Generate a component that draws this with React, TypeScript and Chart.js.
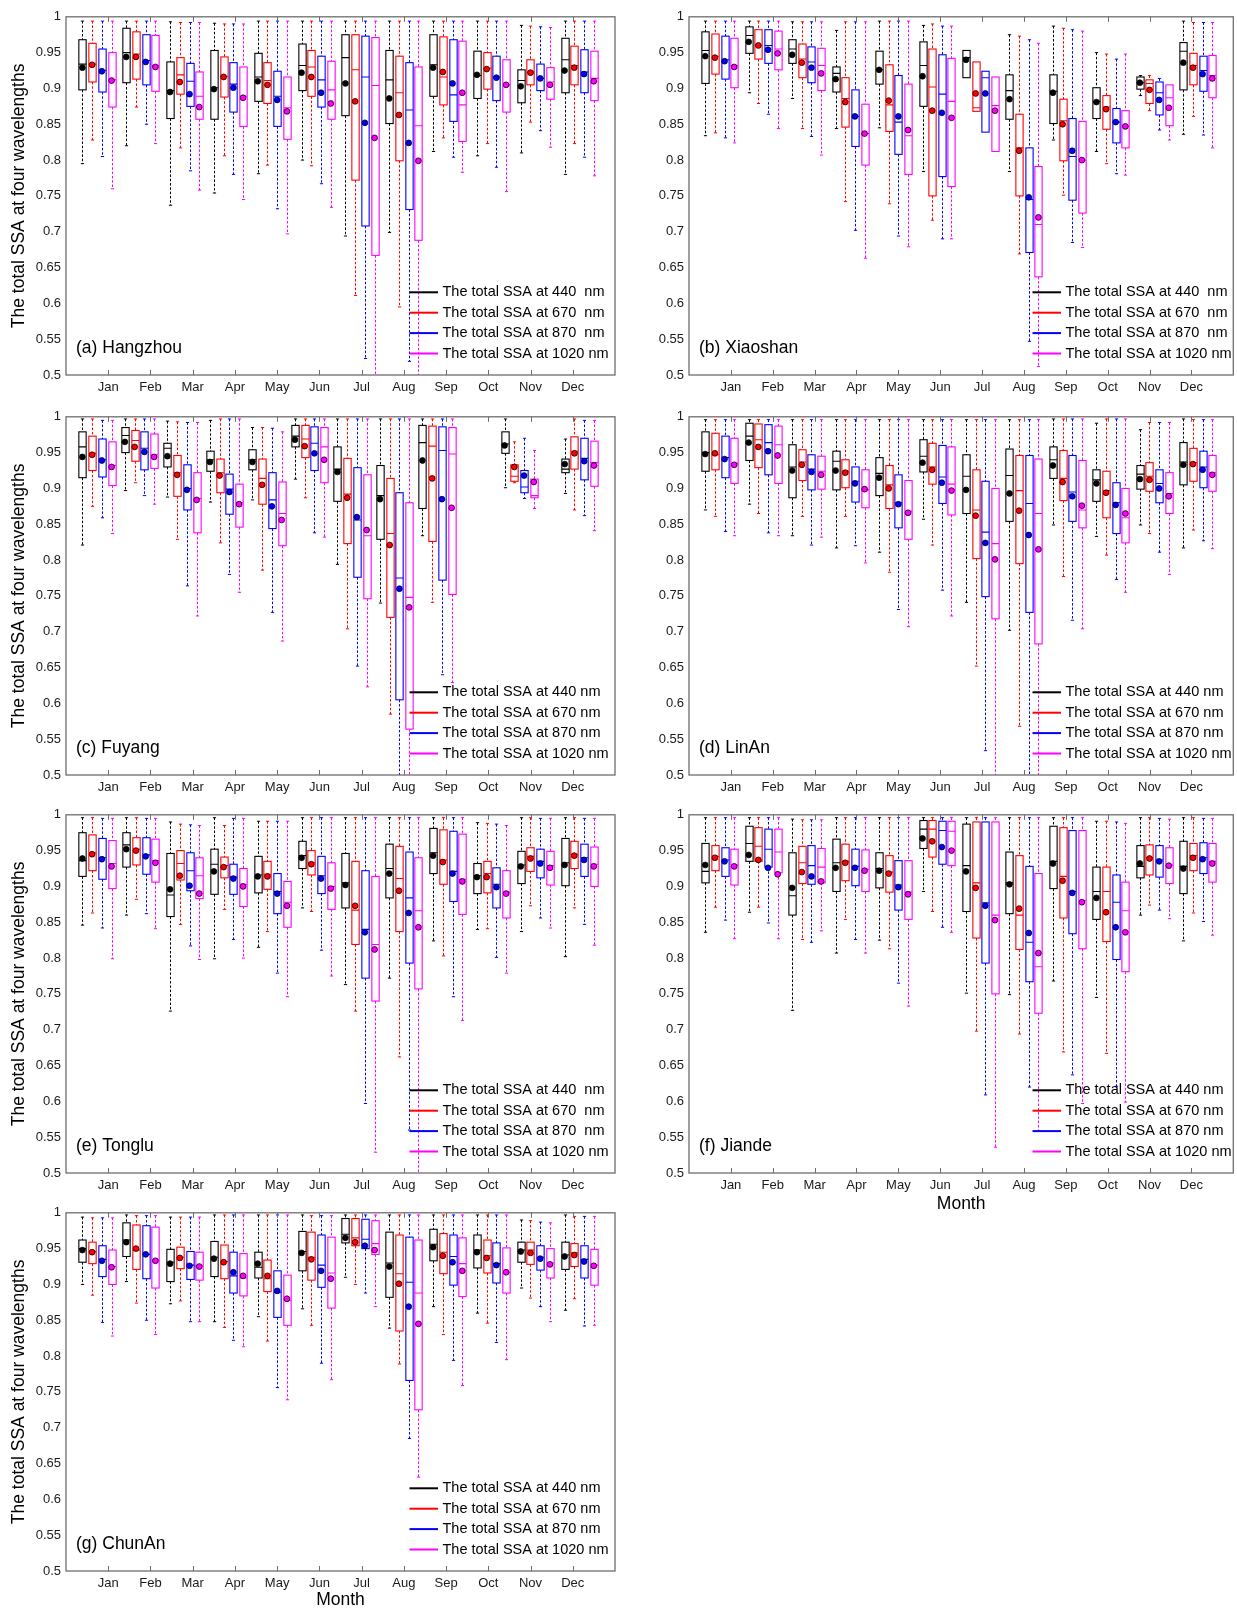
import React, { useEffect, useRef } from 'react';
import { Chart, registerables } from 'chart.js';

Chart.register(...registerables);

// ---------------- data ----------------
const MONTHS = ['Jan', 'Feb', 'Mar', 'Apr', 'May', 'Jun', 'Jul', 'Aug', 'Sep', 'Oct', 'Nov', 'Dec'];
const Y_TICKS = [0.5, 0.55, 0.6, 0.65, 0.7, 0.75, 0.8, 0.85, 0.9, 0.95, 1];
const WAVELENGTHS = ['440', '670', '870', '1020'];
const LEGEND_WIDE = ['The total SSA at 440  nm', 'The total SSA at 670  nm', 'The total SSA at 870  nm', 'The total SSA at 1020 nm'];
const LEGEND_NARROW = ['The total SSA at 440 nm', 'The total SSA at 670 nm', 'The total SSA at 870 nm', 'The total SSA at 1020 nm'];

// each entry: [lower whisker, Q1, median, Q3, upper whisker, mean]
type Stat = number[] | null;

const HZ_440: Stat[] = [
  [0.795, 0.898, 0.934, 0.968, 0.994, 0.929], [0.82, 0.908, 0.95, 0.984, 0.994, 0.944], [0.737, 0.858, 0.897, 0.937, 0.993, 0.895],
  [0.754, 0.857, 0.901, 0.953, 0.991, 0.899], [0.781, 0.882, 0.916, 0.949, 0.994, 0.91], [0.8, 0.897, 0.932, 0.962, 0.994, 0.922],
  [0.694, 0.862, 0.943, 0.975, 0.994, 0.907], [0.699, 0.851, 0.912, 0.953, 0.994, 0.886], [0.812, 0.889, 0.933, 0.975, 0.994, 0.929],
  [0.806, 0.886, 0.918, 0.952, 0.994, 0.919], [0.81, 0.88, 0.911, 0.926, 0.988, 0.903], [0.78, 0.894, 0.94, 0.97, 0.994, 0.925],
];
const HZ_670: Stat[] = [
  [0.828, 0.909, 0.934, 0.963, 0.994, 0.933], [0.874, 0.913, 0.948, 0.979, 0.994, 0.944], [0.817, 0.892, 0.919, 0.943, 0.992, 0.909],
  [0.806, 0.888, 0.917, 0.944, 0.99, 0.916], [0.793, 0.879, 0.911, 0.936, 0.994, 0.905], [0.792, 0.889, 0.93, 0.953, 0.994, 0.916],
  [0.611, 0.772, 0.926, 0.975, 0.994, 0.882], [0.595, 0.799, 0.894, 0.945, 0.994, 0.863], [0.831, 0.877, 0.916, 0.972, 0.994, 0.923],
  [0.823, 0.899, 0.928, 0.95, 0.994, 0.927], [0.853, 0.905, 0.923, 0.94, 0.987, 0.922], [0.823, 0.905, 0.932, 0.959, 0.994, 0.929],
];
const HZ_870: Stat[] = [
  [0.805, 0.895, 0.925, 0.955, 0.994, 0.924], [0.85, 0.905, 0.939, 0.975, 0.994, 0.937], [0.785, 0.875, 0.91, 0.935, 0.992, 0.892],
  [0.78, 0.867, 0.906, 0.936, 0.99, 0.901], [0.732, 0.847, 0.889, 0.924, 0.994, 0.884], [0.767, 0.874, 0.912, 0.945, 0.994, 0.894],
  [0.523, 0.708, 0.916, 0.973, 0.994, 0.852], [0.519, 0.731, 0.87, 0.936, 0.994, 0.824], [0.804, 0.854, 0.891, 0.968, 0.994, 0.907],
  [0.79, 0.883, 0.916, 0.945, 0.994, 0.915], [0.841, 0.897, 0.914, 0.934, 0.986, 0.914], [0.804, 0.894, 0.923, 0.954, 0.994, 0.92],
];
const HZ_1020: Stat[] = [
  [0.76, 0.874, 0.912, 0.95, 0.994, 0.911], [0.823, 0.896, 0.932, 0.974, 0.994, 0.93], [0.758, 0.857, 0.889, 0.923, 0.992, 0.874],
  [0.745, 0.847, 0.889, 0.93, 0.99, 0.887], [0.697, 0.829, 0.873, 0.916, 0.994, 0.868], [0.734, 0.857, 0.898, 0.938, 0.994, 0.879],
  [0.48, 0.667, 0.904, 0.971, 0.994, 0.831], [0.48, 0.688, 0.848, 0.93, 0.994, 0.799], [0.783, 0.826, 0.877, 0.966, 0.994, 0.894],
  [0.756, 0.867, 0.905, 0.94, 0.994, 0.905], [0.818, 0.885, 0.909, 0.929, 0.985, 0.905], [0.778, 0.883, 0.914, 0.952, 0.994, 0.91],
];

const XS_440: Stat[] = [
  [0.834, 0.907, 0.953, 0.979, 0.994, 0.945], [0.894, 0.949, 0.974, 0.986, 0.994, 0.965], [0.886, 0.935, 0.955, 0.968, 0.993, 0.947],
  [0.844, 0.895, 0.921, 0.93, 0.981, 0.913], [0.845, 0.906, 0.926, 0.952, 0.994, 0.926], [0.784, 0.875, 0.932, 0.965, 0.988, 0.917],
  [0.915, 0.915, 0.943, 0.953, 0.953, 0.94], [0.784, 0.857, 0.897, 0.919, 0.975, 0.885], [0.828, 0.851, 0.896, 0.919, 0.987, 0.894],
  [0.812, 0.858, 0.882, 0.901, 0.95, 0.881], [0.89, 0.899, 0.908, 0.916, 0.918, 0.908], [0.836, 0.898, 0.952, 0.964, 0.994, 0.936],
];
const XS_670: Stat[] = [
  [0.838, 0.92, 0.945, 0.976, 0.994, 0.943], [0.879, 0.941, 0.96, 0.982, 0.994, 0.96], [0.844, 0.915, 0.941, 0.962, 0.993, 0.936],
  [0.742, 0.846, 0.886, 0.915, 0.993, 0.881], [0.739, 0.84, 0.877, 0.933, 0.994, 0.883], [0.716, 0.75, 0.902, 0.955, 0.99, 0.869],
  [0.868, 0.868, 0.873, 0.937, 0.937, 0.893], [0.669, 0.75, 0.817, 0.864, 0.973, 0.813], [0.751, 0.799, 0.855, 0.885, 0.984, 0.85],
  [0.795, 0.843, 0.874, 0.89, 0.948, 0.871], [0.869, 0.879, 0.907, 0.912, 0.918, 0.898], [0.861, 0.905, 0.932, 0.949, 0.992, 0.929],
];
const XS_870: Stat[] = [
  [0.831, 0.913, 0.94, 0.973, 0.994, 0.938], [0.864, 0.935, 0.96, 0.982, 0.994, 0.954], [0.833, 0.908, 0.937, 0.958, 0.993, 0.929],
  [0.702, 0.819, 0.861, 0.898, 0.993, 0.861], [0.694, 0.808, 0.853, 0.918, 0.994, 0.861], [0.69, 0.777, 0.892, 0.947, 0.987, 0.866],
  [0.839, 0.839, 0.915, 0.924, 0.924, 0.893], [0.547, 0.671, 0.745, 0.817, 0.968, 0.748], [0.685, 0.744, 0.805, 0.858, 0.982, 0.813],
  [0.781, 0.824, 0.853, 0.872, 0.941, 0.853], [0.842, 0.863, 0.894, 0.909, 0.914, 0.884], [0.835, 0.896, 0.925, 0.945, 0.992, 0.92],
];
const XS_1020: Stat[] = [
  [0.824, 0.901, 0.932, 0.97, 0.994, 0.93], [0.844, 0.926, 0.955, 0.98, 0.994, 0.949], [0.807, 0.897, 0.932, 0.956, 0.993, 0.921],
  [0.663, 0.793, 0.837, 0.878, 0.993, 0.837], [0.679, 0.78, 0.834, 0.906, 0.994, 0.842], [0.69, 0.763, 0.882, 0.942, 0.987, 0.859],
  [0.812, 0.812, 0.876, 0.916, 0.916, 0.869], [0.512, 0.637, 0.71, 0.791, 0.963, 0.72], [0.678, 0.726, 0.8, 0.854, 0.98, 0.8],
  [0.779, 0.817, 0.847, 0.869, 0.948, 0.847], [0.828, 0.848, 0.887, 0.905, 0.905, 0.873], [0.817, 0.887, 0.918, 0.946, 0.992, 0.914],
];

const FY_440: Stat[] = [
  [0.821, 0.915, 0.958, 0.979, 0.997, 0.944], [0.897, 0.95, 0.974, 0.985, 0.997, 0.965], [0.888, 0.93, 0.956, 0.963, 0.994, 0.945],
  [0.881, 0.924, 0.94, 0.952, 0.995, 0.937], [0.884, 0.926, 0.94, 0.954, 0.985, 0.937], [0.913, 0.958, 0.973, 0.988, 0.997, 0.968],
  [0.794, 0.882, 0.927, 0.958, 0.997, 0.923], [0.74, 0.829, 0.89, 0.932, 0.997, 0.885], [0.834, 0.872, 0.964, 0.988, 0.997, 0.939],
  null, [0.901, 0.949, 0.962, 0.979, 0.997, 0.96], [0.893, 0.922, 0.927, 0.941, 0.969, 0.934],
];
const FY_670: Stat[] = [
  [0.875, 0.925, 0.949, 0.973, 0.997, 0.947], [0.908, 0.938, 0.967, 0.981, 0.997, 0.958], [0.829, 0.889, 0.922, 0.946, 0.993, 0.919],
  [0.824, 0.894, 0.922, 0.941, 0.997, 0.918], [0.786, 0.878, 0.914, 0.941, 0.985, 0.905], [0.887, 0.943, 0.969, 0.988, 0.997, 0.959],
  [0.704, 0.823, 0.892, 0.942, 0.997, 0.887], [0.585, 0.72, 0.837, 0.914, 0.997, 0.821], [0.741, 0.826, 0.959, 0.987, 0.997, 0.914],
  null, [0.908, 0.91, 0.917, 0.933, 0.965, 0.93], [0.87, 0.927, 0.952, 0.972, 0.997, 0.949],
];
const FY_870: Stat[] = [
  [0.859, 0.916, 0.94, 0.969, 0.995, 0.939], [0.89, 0.926, 0.956, 0.979, 0.997, 0.951], [0.764, 0.87, 0.9, 0.933, 0.992, 0.898],
  [0.78, 0.864, 0.899, 0.92, 0.997, 0.895], [0.727, 0.844, 0.884, 0.922, 0.984, 0.875], [0.838, 0.925, 0.963, 0.986, 0.997, 0.949],
  [0.652, 0.776, 0.856, 0.929, 0.997, 0.86], [0.48, 0.605, 0.775, 0.894, 0.997, 0.76], [0.64, 0.772, 0.953, 0.986, 0.997, 0.885],
  null, [0.886, 0.894, 0.902, 0.925, 0.97, 0.918], [0.862, 0.912, 0.942, 0.97, 0.995, 0.938],
];
const FY_1020: Stat[] = [
  [0.837, 0.904, 0.932, 0.965, 0.995, 0.93], [0.878, 0.928, 0.947, 0.976, 0.997, 0.944], [0.722, 0.838, 0.886, 0.922, 0.992, 0.884],
  [0.755, 0.846, 0.88, 0.906, 0.997, 0.878], [0.687, 0.82, 0.865, 0.909, 0.979, 0.856], [0.832, 0.908, 0.958, 0.985, 0.997, 0.94],
  [0.623, 0.746, 0.834, 0.919, 0.997, 0.842], [0.48, 0.564, 0.748, 0.88, 0.997, 0.734], [0.629, 0.752, 0.948, 0.985, 0.997, 0.873],
  null, [0.872, 0.887, 0.89, 0.913, 0.953, 0.909], [0.841, 0.903, 0.936, 0.966, 0.995, 0.932],
];

const LA_440: Stat[] = [
  [0.87, 0.924, 0.95, 0.979, 0.996, 0.948], [0.878, 0.939, 0.973, 0.991, 0.996, 0.964], [0.834, 0.887, 0.93, 0.961, 0.996, 0.925],
  [0.817, 0.898, 0.938, 0.952, 0.996, 0.925], [0.811, 0.89, 0.921, 0.943, 0.996, 0.915], [0.857, 0.923, 0.945, 0.968, 0.996, 0.936],
  [0.741, 0.865, 0.917, 0.947, 0.996, 0.898], [0.702, 0.854, 0.918, 0.955, 0.996, 0.893], [0.849, 0.914, 0.94, 0.958, 0.997, 0.932],
  [0.833, 0.882, 0.912, 0.926, 0.991, 0.907], [0.849, 0.899, 0.92, 0.932, 0.982, 0.913], [0.817, 0.905, 0.937, 0.964, 0.997, 0.933],
];
const LA_670: Stat[] = [
  [0.861, 0.926, 0.947, 0.977, 0.996, 0.949], [0.865, 0.929, 0.968, 0.99, 0.996, 0.958], [0.861, 0.911, 0.937, 0.954, 0.996, 0.933],
  [0.861, 0.901, 0.924, 0.94, 0.996, 0.922], [0.783, 0.872, 0.905, 0.932, 0.996, 0.9], [0.821, 0.906, 0.93, 0.963, 0.996, 0.926],
  [0.652, 0.802, 0.87, 0.926, 0.996, 0.862], [0.568, 0.795, 0.897, 0.946, 0.996, 0.869], [0.777, 0.883, 0.914, 0.953, 0.997, 0.909],
  [0.807, 0.859, 0.897, 0.924, 0.997, 0.894], [0.837, 0.896, 0.917, 0.936, 0.992, 0.912], [0.842, 0.91, 0.936, 0.956, 0.996, 0.934],
];
const LA_870: Stat[] = [
  [0.84, 0.915, 0.943, 0.973, 0.996, 0.941], [0.838, 0.919, 0.964, 0.989, 0.996, 0.952], [0.821, 0.898, 0.927, 0.947, 0.996, 0.923],
  [0.82, 0.881, 0.91, 0.93, 0.996, 0.907], [0.731, 0.845, 0.88, 0.919, 0.996, 0.878], [0.758, 0.879, 0.916, 0.96, 0.996, 0.908],
  [0.534, 0.749, 0.839, 0.91, 0.996, 0.824], [0.48, 0.727, 0.879, 0.946, 0.996, 0.835], [0.716, 0.854, 0.895, 0.946, 0.997, 0.889],
  [0.773, 0.837, 0.88, 0.908, 0.997, 0.877], [0.811, 0.88, 0.907, 0.926, 0.992, 0.9], [0.827, 0.901, 0.93, 0.952, 0.996, 0.926],
];
const LA_1020: Stat[] = [
  [0.834, 0.907, 0.935, 0.97, 0.996, 0.933], [0.834, 0.907, 0.961, 0.987, 0.996, 0.946], [0.832, 0.899, 0.924, 0.945, 0.996, 0.919],
  [0.796, 0.873, 0.898, 0.926, 0.996, 0.899], [0.707, 0.829, 0.868, 0.911, 0.996, 0.866], [0.722, 0.863, 0.906, 0.958, 0.996, 0.897],
  [0.48, 0.718, 0.823, 0.9, 0.996, 0.801], [0.48, 0.683, 0.865, 0.941, 0.996, 0.815], [0.704, 0.845, 0.87, 0.939, 0.997, 0.876],
  [0.755, 0.824, 0.859, 0.9, 0.997, 0.865], [0.78, 0.865, 0.893, 0.922, 0.992, 0.889], [0.816, 0.896, 0.922, 0.946, 0.996, 0.919],
];

const TL_440: Stat[] = [
  [0.846, 0.914, 0.936, 0.975, 0.996, 0.939], [0.86, 0.927, 0.958, 0.975, 0.996, 0.952], [0.726, 0.858, 0.888, 0.946, 0.99, 0.896],
  [0.799, 0.889, 0.931, 0.952, 0.996, 0.921], [0.815, 0.891, 0.916, 0.942, 0.991, 0.914], [0.87, 0.925, 0.943, 0.963, 0.996, 0.94],
  [0.763, 0.87, 0.905, 0.946, 0.996, 0.902], [0.772, 0.884, 0.925, 0.959, 0.996, 0.918], [0.824, 0.918, 0.947, 0.981, 0.996, 0.943],
  [0.84, 0.89, 0.915, 0.932, 0.989, 0.913], [0.837, 0.904, 0.93, 0.949, 0.996, 0.928], [0.802, 0.901, 0.933, 0.967, 0.996, 0.93],
];
const TL_670: Stat[] = [
  [0.863, 0.922, 0.947, 0.972, 0.996, 0.945], [0.882, 0.93, 0.952, 0.968, 0.996, 0.95], [0.847, 0.909, 0.932, 0.95, 0.987, 0.915],
  [0.868, 0.912, 0.929, 0.941, 0.985, 0.927], [0.837, 0.896, 0.917, 0.935, 0.991, 0.914], [0.865, 0.916, 0.933, 0.95, 0.996, 0.931],
  [0.726, 0.819, 0.867, 0.935, 0.996, 0.873], [0.662, 0.837, 0.911, 0.956, 0.996, 0.894], [0.803, 0.903, 0.937, 0.979, 0.996, 0.934],
  [0.841, 0.891, 0.918, 0.935, 0.988, 0.913], [0.873, 0.921, 0.942, 0.954, 0.996, 0.939], [0.87, 0.925, 0.945, 0.963, 0.996, 0.943],
];
const TL_870: Stat[] = [
  [0.842, 0.91, 0.94, 0.967, 0.995, 0.938], [0.862, 0.917, 0.944, 0.968, 0.995, 0.942], [0.817, 0.894, 0.922, 0.947, 0.986, 0.901],
  [0.826, 0.889, 0.913, 0.931, 0.995, 0.911], [0.779, 0.862, 0.893, 0.918, 0.991, 0.89], [0.811, 0.89, 0.915, 0.942, 0.996, 0.911],
  [0.597, 0.772, 0.84, 0.922, 0.996, 0.836], [0.56, 0.793, 0.884, 0.948, 0.996, 0.863], [0.746, 0.879, 0.921, 0.977, 0.996, 0.918],
  [0.801, 0.87, 0.903, 0.926, 0.987, 0.899], [0.856, 0.912, 0.935, 0.952, 0.995, 0.932], [0.847, 0.914, 0.94, 0.959, 0.995, 0.937],
];
const TL_1020: Stat[] = [
  [0.799, 0.897, 0.932, 0.964, 0.995, 0.928], [0.841, 0.906, 0.936, 0.966, 0.995, 0.933], [0.798, 0.883, 0.915, 0.94, 0.985, 0.89],
  [0.8, 0.872, 0.903, 0.925, 0.995, 0.9], [0.746, 0.843, 0.878, 0.907, 0.991, 0.873], [0.775, 0.868, 0.9, 0.933, 0.996, 0.897],
  [0.529, 0.74, 0.819, 0.914, 0.996, 0.812], [0.48, 0.757, 0.866, 0.94, 0.996, 0.843], [0.713, 0.861, 0.91, 0.973, 0.996, 0.907],
  [0.779, 0.856, 0.892, 0.922, 0.985, 0.89], [0.842, 0.902, 0.929, 0.949, 0.995, 0.926], [0.818, 0.9, 0.931, 0.955, 0.995, 0.928],
];

const JD_440: Stat[] = [
  [0.836, 0.905, 0.921, 0.96, 0.996, 0.93], [0.864, 0.935, 0.96, 0.984, 0.996, 0.944], [0.727, 0.86, 0.887, 0.947, 0.994, 0.898],
  [0.807, 0.893, 0.933, 0.966, 0.996, 0.926], [0.825, 0.898, 0.925, 0.947, 0.996, 0.922], [0.893, 0.953, 0.98, 0.992, 0.996, 0.967],
  [0.751, 0.865, 0.929, 0.987, 0.996, 0.921], [0.749, 0.862, 0.905, 0.948, 0.996, 0.903], [0.768, 0.897, 0.935, 0.984, 0.996, 0.932],
  [0.745, 0.854, 0.893, 0.927, 0.991, 0.884], [0.86, 0.912, 0.928, 0.957, 0.996, 0.932], [0.824, 0.89, 0.928, 0.963, 0.996, 0.925],
];
const JD_670: Stat[] = [
  [0.871, 0.922, 0.942, 0.957, 0.996, 0.94], [0.871, 0.935, 0.956, 0.982, 0.996, 0.937], [0.826, 0.904, 0.933, 0.956, 0.993, 0.92],
  [0.854, 0.908, 0.935, 0.959, 0.996, 0.933], [0.813, 0.892, 0.92, 0.943, 0.996, 0.918], [0.865, 0.941, 0.98, 0.992, 0.996, 0.963],
  [0.698, 0.828, 0.905, 0.99, 0.996, 0.898], [0.694, 0.812, 0.86, 0.943, 0.996, 0.869], [0.669, 0.856, 0.914, 0.982, 0.996, 0.908],
  [0.667, 0.823, 0.893, 0.927, 0.991, 0.864], [0.874, 0.916, 0.94, 0.958, 0.996, 0.939], [0.863, 0.922, 0.943, 0.96, 0.996, 0.94],
];
const JD_870: Stat[] = [
  [0.853, 0.914, 0.937, 0.954, 0.996, 0.935], [0.849, 0.927, 0.952, 0.98, 0.996, 0.926], [0.822, 0.903, 0.929, 0.957, 0.993, 0.914],
  [0.826, 0.901, 0.928, 0.952, 0.996, 0.926], [0.765, 0.867, 0.902, 0.936, 0.996, 0.899], [0.843, 0.931, 0.978, 0.991, 0.996, 0.955],
  [0.609, 0.793, 0.877, 0.99, 0.996, 0.873], [0.62, 0.767, 0.822, 0.928, 0.996, 0.835], [0.637, 0.834, 0.893, 0.978, 0.996, 0.891],
  [0.621, 0.798, 0.878, 0.916, 0.99, 0.843], [0.867, 0.913, 0.937, 0.957, 0.995, 0.935], [0.851, 0.918, 0.94, 0.961, 0.995, 0.938],
];
const JD_1020: Stat[] = [
  [0.827, 0.902, 0.93, 0.952, 0.996, 0.928], [0.827, 0.919, 0.948, 0.98, 0.996, 0.917], [0.838, 0.905, 0.927, 0.953, 0.993, 0.907],
  [0.807, 0.893, 0.924, 0.951, 0.996, 0.922], [0.733, 0.854, 0.892, 0.936, 0.996, 0.889], [0.836, 0.929, 0.977, 0.991, 0.996, 0.95],
  [0.536, 0.75, 0.86, 0.99, 0.996, 0.853], [0.558, 0.723, 0.788, 0.918, 0.996, 0.807], [0.597, 0.813, 0.88, 0.978, 0.996, 0.878],
  [0.599, 0.781, 0.866, 0.906, 0.988, 0.836], [0.855, 0.904, 0.93, 0.954, 0.994, 0.929], [0.832, 0.906, 0.935, 0.96, 0.995, 0.932],
];

const CA_440: Stat[] = [
  [0.9, 0.931, 0.95, 0.962, 0.994, 0.948], [0.904, 0.939, 0.962, 0.986, 0.997, 0.959], [0.873, 0.904, 0.931, 0.949, 0.994, 0.929],
  [0.848, 0.911, 0.938, 0.96, 0.997, 0.936], [0.855, 0.909, 0.924, 0.945, 0.997, 0.929], [0.866, 0.919, 0.946, 0.974, 0.997, 0.944],
  [0.91, 0.958, 0.97, 0.992, 0.997, 0.965], [0.839, 0.882, 0.93, 0.973, 0.997, 0.925], [0.869, 0.933, 0.956, 0.977, 0.997, 0.952],
  [0.86, 0.923, 0.948, 0.969, 0.997, 0.945], [0.895, 0.931, 0.948, 0.959, 0.99, 0.946], [0.864, 0.921, 0.941, 0.959, 0.997, 0.939],
];
const CA_670: Stat[] = [
  [0.885, 0.929, 0.946, 0.959, 0.993, 0.945], [0.874, 0.921, 0.948, 0.983, 0.996, 0.95], [0.877, 0.922, 0.938, 0.952, 0.994, 0.937],
  [0.84, 0.908, 0.932, 0.955, 0.997, 0.931], [0.821, 0.89, 0.908, 0.934, 0.997, 0.912], [0.843, 0.906, 0.938, 0.973, 0.996, 0.935],
  [0.9, 0.954, 0.965, 0.992, 0.997, 0.959], [0.789, 0.835, 0.915, 0.969, 0.997, 0.901], [0.83, 0.915, 0.945, 0.971, 0.997, 0.94],
  [0.846, 0.916, 0.94, 0.962, 0.997, 0.937], [0.881, 0.928, 0.948, 0.959, 0.989, 0.944], [0.88, 0.925, 0.944, 0.957, 0.995, 0.941],
];
const CA_870: Stat[] = [
  [0.847, 0.911, 0.935, 0.954, 0.993, 0.933], [0.85, 0.908, 0.942, 0.982, 0.996, 0.942], [0.848, 0.907, 0.927, 0.946, 0.994, 0.926],
  [0.822, 0.888, 0.912, 0.945, 0.997, 0.917], [0.756, 0.854, 0.889, 0.919, 0.997, 0.891], [0.79, 0.896, 0.927, 0.969, 0.996, 0.919],
  [0.888, 0.95, 0.963, 0.991, 0.997, 0.954], [0.685, 0.766, 0.903, 0.966, 0.997, 0.869], [0.794, 0.899, 0.939, 0.969, 0.997, 0.931],
  [0.819, 0.902, 0.929, 0.958, 0.997, 0.927], [0.869, 0.92, 0.938, 0.954, 0.987, 0.936], [0.842, 0.909, 0.935, 0.954, 0.995, 0.932],
];
const CA_1020: Stat[] = [
  [0.828, 0.9, 0.925, 0.948, 0.993, 0.924], [0.83, 0.895, 0.934, 0.98, 0.996, 0.933], [0.848, 0.906, 0.926, 0.945, 0.994, 0.925],
  [0.813, 0.884, 0.909, 0.943, 0.997, 0.912], [0.739, 0.843, 0.878, 0.913, 0.997, 0.88], [0.767, 0.867, 0.916, 0.966, 0.996, 0.908],
  [0.869, 0.942, 0.957, 0.989, 0.997, 0.948], [0.631, 0.725, 0.888, 0.962, 0.997, 0.845], [0.759, 0.883, 0.929, 0.965, 0.997, 0.919],
  [0.795, 0.888, 0.917, 0.951, 0.997, 0.917], [0.848, 0.909, 0.93, 0.95, 0.986, 0.928], [0.843, 0.899, 0.927, 0.949, 0.995, 0.926],
];

// ---------------- layout / style ----------------
const COLORS = ['#000000', '#ff0000', '#0000ff', '#ff00ff'];
const FONT = '"Liberation Sans", Arial, Helvetica, sans-serif';
const AXIS_COLOR = '#6e6e6e';
const TEXT_COLOR = '#1a1a1a';
const SERIES_STEP = 0.2305; // x-distance between the 4 boxes of one month (axis units)
const BOX_W = 0.173; // box width (axis units)
const CAP_HALF = 1.6; // px
const GROUP_X_DEFAULT = MONTHS.map((_, i) => 0.388 + i * 1.038);
const GROUP_X_FUYANG: (number | null)[] = [0.388, 1.395, 2.401, 3.408, 4.414, 5.421, 6.427, 7.434, 8.44, null, 10.386, 11.81];

const ROW_TOP = [16, 416, 814, 1212];
const PLOT_H = 359;
const PAD_TOP = 12;
const COLS = [
  { left: 0, width: 620, yWidth: 66, padRight: 5 },
  { left: 624, width: 613, yWidth: 65, padRight: 1 },
];

Chart.defaults.font.family = FONT;

interface PanelCfg {
  id: string;
  label: string;
  series: Stat[][];
  row: number;
  col: number;
  yTitle: boolean;
  xTitle: boolean;
  legend: string[];
  groupX: (number | null)[];
}

const PANELS: PanelCfg[] = [
  { id: 'a', label: '(a) Hangzhou', series: [HZ_440, HZ_670, HZ_870, HZ_1020], row: 0, col: 0, yTitle: true, xTitle: false, legend: LEGEND_WIDE, groupX: GROUP_X_DEFAULT },
  { id: 'b', label: '(b) Xiaoshan', series: [XS_440, XS_670, XS_870, XS_1020], row: 0, col: 1, yTitle: false, xTitle: false, legend: LEGEND_WIDE, groupX: GROUP_X_DEFAULT },
  { id: 'c', label: '(c) Fuyang', series: [FY_440, FY_670, FY_870, FY_1020], row: 1, col: 0, yTitle: true, xTitle: false, legend: LEGEND_NARROW, groupX: GROUP_X_FUYANG },
  { id: 'd', label: '(d) LinAn', series: [LA_440, LA_670, LA_870, LA_1020], row: 1, col: 1, yTitle: false, xTitle: false, legend: LEGEND_NARROW, groupX: GROUP_X_DEFAULT },
  { id: 'e', label: '(e) Tonglu', series: [TL_440, TL_670, TL_870, TL_1020], row: 2, col: 0, yTitle: true, xTitle: false, legend: LEGEND_WIDE, groupX: GROUP_X_DEFAULT },
  { id: 'f', label: '(f) Jiande', series: [JD_440, JD_670, JD_870, JD_1020], row: 2, col: 1, yTitle: false, xTitle: true, legend: LEGEND_NARROW, groupX: GROUP_X_DEFAULT },
  { id: 'g', label: '(g) ChunAn', series: [CA_440, CA_670, CA_870, CA_1020], row: 3, col: 0, yTitle: true, xTitle: true, legend: LEGEND_NARROW, groupX: GROUP_X_DEFAULT },
];

function xAxisHeight(row: number) {
  return row === 3 ? 38 : 40;
}

function makeBoxPlugin(p: PanelCfg) {
  return {
    id: 'ssaBoxes_' + p.id,
    beforeDatasetsDraw(chart: any) {
      const { ctx, chartArea: ca } = chart;
      const xs = chart.scales.x;
      const ys = chart.scales.y;
      const Y = (v: number) => ys.getPixelForValue(v);
      const halfW = (xs.getPixelForValue(BOX_W) - xs.getPixelForValue(0)) / 2;
      ctx.save();
      ctx.beginPath();
      ctx.rect(ca.left, ca.top, ca.right - ca.left, ca.bottom - ca.top);
      ctx.clip();
      p.series.forEach((vals, k) => {
        const col = COLORS[k];
        vals.forEach((st, i) => {
          const gx = p.groupX[i];
          if (!st || gx == null) return;
          const [lo, q1, med, q3, hi] = st;
          const cx = Math.round(xs.getPixelForValue(gx + k * SERIES_STEP)) + 0.5;
          ctx.strokeStyle = col;
          ctx.lineWidth = 1;
          ctx.setLineDash([2.5, 1.8]);
          ctx.beginPath();
          if (hi > q3) { ctx.moveTo(cx, Y(hi)); ctx.lineTo(cx, Y(q3)); }
          if (lo < q1) { ctx.moveTo(cx, Y(q1)); ctx.lineTo(cx, Y(lo)); }
          ctx.stroke();
          ctx.setLineDash([]);
          ctx.beginPath();
          if (hi > q3) { ctx.moveTo(cx - CAP_HALF, Y(hi)); ctx.lineTo(cx + CAP_HALF, Y(hi)); }
          if (lo < q1) { ctx.moveTo(cx - CAP_HALF, Y(lo)); ctx.lineTo(cx + CAP_HALF, Y(lo)); }
          ctx.stroke();
          ctx.lineWidth = 1.1;
          ctx.strokeRect(cx - halfW, Y(q3), 2 * halfW, Y(q1) - Y(q3));
          ctx.beginPath();
          ctx.moveTo(cx - halfW, Y(med));
          ctx.lineTo(cx + halfW, Y(med));
          ctx.stroke();
        });
      });
      ctx.restore();
    },
    afterDraw(chart: any) {
      const { ctx, chartArea: ca } = chart;
      const xs = chart.scales.x;
      ctx.save();
      ctx.strokeStyle = AXIS_COLOR;
      ctx.lineWidth = 1.3;
      ctx.strokeRect(ca.left, ca.top, ca.right - ca.left, ca.bottom - ca.top);
      ctx.beginPath();
      MONTHS.forEach((_, i) => {
        const px = Math.round(xs.getPixelForValue(i + 1)) + 0.5;
        ctx.moveTo(px, ca.bottom);
        ctx.lineTo(px, ca.bottom - 5);
        ctx.moveTo(px, ca.top);
        ctx.lineTo(px, ca.top + 5);
      });
      ctx.lineWidth = 1;
      ctx.stroke();
      ctx.font = `14.5px ${FONT}`;
      ctx.textBaseline = 'middle';
      ctx.textAlign = 'left';
      p.legend.forEach((txt, k) => {
        const yy = ca.top + 275.5 + k * 20.4;
        ctx.strokeStyle = COLORS[k];
        ctx.lineWidth = 2;
        ctx.beginPath();
        ctx.moveTo(ca.left + 343.5, yy);
        ctx.lineTo(ca.left + 372, yy);
        ctx.stroke();
        ctx.fillStyle = '#000';
        ctx.fillText(txt, ca.left + 376.5, yy);
      });
      ctx.font = `17.5px ${FONT}`;
      ctx.fillStyle = '#000';
      ctx.fillText(p.label, ca.left + 10, ca.top + 331);
      ctx.restore();
    },
  };
}

function buildConfig(p: PanelCfg): any {
  const col = COLS[p.col];
  const datasets = p.series.map((vals, k) => ({
    label: `The total SSA at ${WAVELENGTHS[k]} nm`,
    data: vals
      .map((st, i) => (st && p.groupX[i] != null ? { x: (p.groupX[i] as number) + k * SERIES_STEP, y: st[5] } : null))
      .filter((d) => d !== null),
    showLine: false,
    pointRadius: 2.9,
    pointHoverRadius: 2.9,
    pointBorderWidth: 0.8,
    pointBorderColor: '#000000',
    pointBackgroundColor: COLORS[k],
  }));
  return {
    type: 'scatter',
    data: { datasets },
    plugins: [makeBoxPlugin(p)],
    options: {
      animation: false,
      responsive: false,
      maintainAspectRatio: false,
      devicePixelRatio: 1,
      events: [],
      layout: { padding: { top: PAD_TOP, bottom: 0, left: 0, right: col.padRight } },
      plugins: { legend: { display: false }, tooltip: { enabled: false } },
      scales: {
        x: {
          type: 'linear',
          min: 0,
          max: 13,
          afterBuildTicks: (s: any) => {
            s.ticks = MONTHS.map((_, i) => ({ value: i + 1 }));
          },
          afterFit: (s: any) => {
            s.height = xAxisHeight(p.row);
          },
          ticks: {
            autoSkip: false,
            maxRotation: 0,
            minRotation: 0,
            padding: 5,
            color: TEXT_COLOR,
            font: { size: 13 },
            callback: (v: number) => MONTHS[Math.round(v) - 1] ?? '',
          },
          grid: { display: false, drawTicks: false, tickLength: 0 },
          border: { display: false },
          title: {
            display: p.xTitle,
            text: 'Month',
            color: '#000',
            font: { size: 17.5, lineHeight: 1 },
            padding: { top: 0, bottom: 0 },
          },
        },
        y: {
          type: 'linear',
          min: 0.5,
          max: 1,
          afterBuildTicks: (s: any) => {
            s.ticks = Y_TICKS.map((v) => ({ value: v }));
          },
          afterFit: (s: any) => {
            s.width = col.yWidth;
          },
          ticks: {
            padding: 5,
            color: TEXT_COLOR,
            font: { size: 13 },
            callback: (v: number) => String(parseFloat(Number(v).toFixed(2))),
          },
          grid: { display: false, drawTicks: false, tickLength: 0 },
          border: { display: false },
          title: {
            display: p.yTitle,
            text: 'The total SSA at four wavelengths',
            color: '#000',
            font: { size: 17.5, lineHeight: 1.2 },
            padding: { top: 9, bottom: 0 },
          },
        },
      },
    },
  };
}

function Panel({ p }: { p: PanelCfg }) {
  const ref = useRef<HTMLCanvasElement>(null);
  const col = COLS[p.col];
  const top = ROW_TOP[p.row] - PAD_TOP;
  const height = PAD_TOP + PLOT_H + xAxisHeight(p.row);
  useEffect(() => {
    if (!ref.current) return;
    const chart = new Chart(ref.current, buildConfig(p));
    return () => chart.destroy();
  }, [p]);
  return (
    <canvas
      ref={ref}
      width={col.width}
      height={height}
      style={{ position: 'absolute', left: col.left, top, width: col.width, height }}
    />
  );
}

export default function App() {
  return (
    <div
      style={{
        position: 'absolute',
        left: 0,
        top: 0,
        width: 1237,
        height: 1609,
        overflow: 'hidden',
        background: '#ffffff',
      }}
    >
      {PANELS.map((p) => (
        <Panel key={p.id} p={p} />
      ))}
    </div>
  );
}
